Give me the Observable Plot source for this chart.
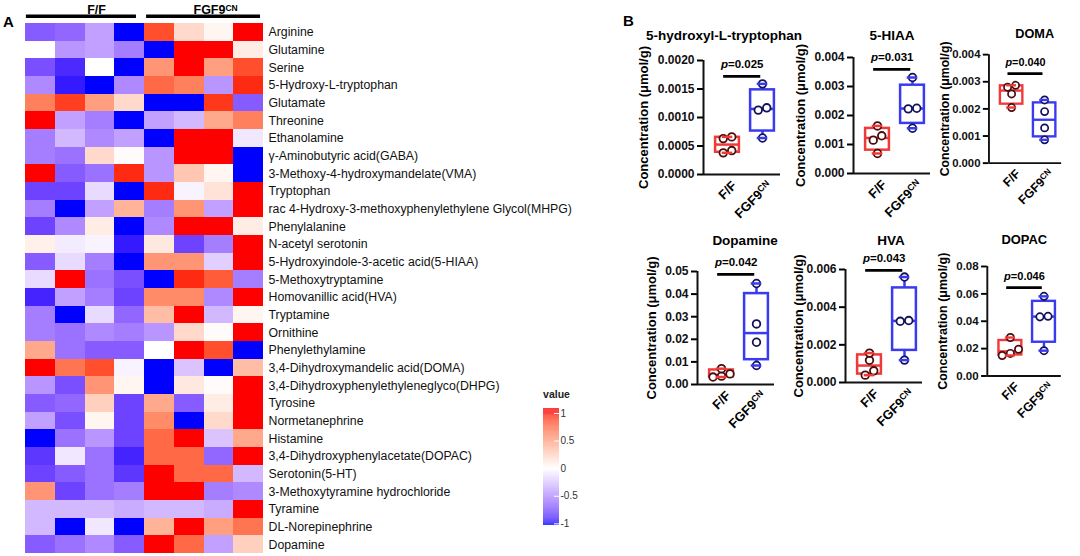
<!DOCTYPE html>
<html><head><meta charset="utf-8">
<script src="https://cdn.jsdelivr.net/npm/d3@7"></script>
<script src="https://cdn.jsdelivr.net/npm/@observablehq/plot@0.6"></script>
<style>
body{margin:0;width:1080px;height:556px;overflow:hidden;background:#fff;font-family:"Liberation Sans",Arial,sans-serif;}
#root{position:relative;width:1080px;height:556px;}
.abs{position:absolute;}
.abs svg{overflow:visible;}
.letter{position:absolute;font-weight:bold;font-size:15px;line-height:1;}
</style></head><body><div id="root"></div>
<script>
// ---------------- DATA ----------------
const metabolites = [
 "Arginine","Glutamine","Serine","5-Hydroxy-L-tryptophan","Glutamate","Threonine","Ethanolamine",
 "γ-Aminobutyric acid(GABA)","3-Methoxy-4-hydroxymandelate(VMA)","Tryptophan",
 "rac 4-Hydroxy-3-methoxyphenylethylene Glycol(MHPG)","Phenylalanine","N-acetyl serotonin",
 "5-Hydroxyindole-3-acetic acid(5-HIAA)","5-Methoxytryptamine","Homovanillic acid(HVA)","Tryptamine",
 "Ornithine","Phenylethylamine","3,4-Dihydroxymandelic acid(DOMA)","3,4-Dihydroxyphenylethyleneglyco(DHPG)",
 "Tyrosine","Normetanephrine","Histamine","3,4-Dihydroxyphenylacetate(DOPAC)","Serotonin(5-HT)",
 "3-Methoxytyramine hydrochloride","Tyramine","DL-Norepinephrine","Dopamine"
];
const groupLabels = ["F/F","FGF9CN"];
const heatValues = [
 [-0.7,-0.65,-0.4,-1, 0.85,0.2,0.05,1],
 [0.0,-0.45,-0.4,-0.55, -1,1,1,0.1],
 [-0.75,-0.9,0.0,-1, 0.55,1,0.5,0.85],
 [-0.5,-0.95,-1,-0.5, 0.75,0.65,-0.45,0.95],
 [0.65,0.9,0.5,0.2, -1,-1,0.92,-0.7],
 [1,-0.4,-0.55,-1, -0.4,-0.3,0.45,0.65],
 [-0.55,-0.3,-0.5,-0.4, -1,1,1,-0.1],
 [-0.55,-0.6,0.2,0.02, -0.45,1,1,-1],
 [1,-0.7,-0.6,0.95, -0.45,0.3,0.05,-1],
 [-0.8,-0.8,-0.15,-1, 0.95,-0.05,0.15,1],
 [-0.55,-1,-0.4,0.4, -0.55,0.55,-0.4,1],
 [-0.8,-0.5,0.1,-1, -0.5,1,1,0.1],
 [0.08,-0.08,-0.05,-0.95, 0.12,-0.8,-0.55,1],
 [-0.7,-0.15,-0.55,-1, 0.55,0.55,-0.2,1],
 [-0.15,1,-0.6,-0.75, -1,0.95,0.8,-0.55],
 [-0.92,-0.4,-0.55,-0.8, 0.6,0.6,-0.5,1],
 [-0.55,-1,-0.15,-0.65, 0.35,1,-0.3,0.05],
 [-0.55,-0.6,-0.5,-0.55, -0.45,0.2,0.02,1],
 [0.45,-0.6,-0.7,-0.7, 0.0,1,0.85,-1],
 [1,0.7,0.85,-0.05, -1,-0.25,-1,0.35],
 [-0.45,-0.75,0.55,0.05, -1,0.12,0.02,1],
 [-0.7,-0.65,0.25,-0.8, 0.45,-0.7,0.1,1],
 [-0.4,-0.75,0.05,-0.8, 0.6,-1,0.2,1],
 [-1,-0.6,-0.45,-0.8, 0.75,1,-0.25,0.45],
 [-0.85,-0.1,-0.6,-0.92, 0.75,0.75,-0.65,1],
 [-0.8,-0.7,-0.6,-0.85, 1,0.75,0.75,-0.3],
 [0.55,-0.8,-0.6,-0.55, 1,1,-0.55,-0.5],
 [-0.3,-0.3,-0.3,-0.35, -0.3,-0.3,-0.35,1],
 [-0.3,-1,-0.1,-1, 0.4,1,0.5,0.7],
 [-0.7,-0.6,-0.5,-0.7, 1,0.75,-0.4,0.25]
];
const legendTicks = [-1,-0.5,0,0.5,1];

const boxTitles = ["5-hydroxyl-L-tryptophan","5-HIAA","DOMA","Dopamine","HVA","DOPAC"];
const ffValues = [
 [0.00038,0.00042,0.00063,0.00066],
 [0.00069,0.00115,0.00130,0.00164],
 [0.00205,0.00255,0.00280,0.00287],
 [0.0033,0.0037,0.0047,0.0070],
 [0.00039,0.00062,0.00118,0.00156],
 [0.0150,0.0165,0.0195,0.0281]
];
const cnValues = [
 [0.00064,0.00113,0.00117,0.00159],
 [0.00156,0.00223,0.00225,0.00331],
 [0.00086,0.00130,0.00190,0.00233],
 [0.0084,0.0187,0.0268,0.0447],
 [0.00119,0.00325,0.00329,0.00560],
 [0.0185,0.0432,0.0436,0.0582]
];
const pValues = ["0.025","0.031","0.040","0.042","0.043","0.046"];
const yMax = [0.002,0.004,0.004,0.05,0.006,0.08];
const yStep = [0.0005,0.001,0.001,0.01,0.002,0.02];
const yDecimals = [4,3,3,2,3,2];
const sigBarY = [0.00172,0.00359,0.00330,0.0487,0.00595,0.0646];
const yTitle = "Concentration (μmol/g)";

// ---------------- LAYOUT ----------------
const FONT = '"Liberation Sans", Arial, sans-serif';
const root = document.getElementById("root");
const NS = "http://www.w3.org/2000/svg";
function place(node, left, top){
  const d = document.createElement("div"); d.className="abs";
  d.style.left = left+"px"; d.style.top = top+"px";
  d.appendChild(node); root.appendChild(d); return d;
}
function decorate(svg){
  svg.querySelectorAll("text").forEach(t=>{
    const s = t.textContent;
    if (s === "FGF9CN") {
      t.textContent = "FGF9";
      const sp = document.createElementNS(NS,"tspan");
      sp.setAttribute("dy","-0.42em"); sp.setAttribute("font-size","0.68em");
      sp.textContent = "CN"; t.appendChild(sp);
    } else if (/^p=/.test(s)) {
      t.textContent = "";
      const a = document.createElementNS(NS,"tspan"); a.setAttribute("font-style","italic"); a.textContent="p";
      const b = document.createElementNS(NS,"tspan"); b.textContent = s.slice(1);
      t.appendChild(a); t.appendChild(b);
    }
  });
  return svg;
}
function letter(txt, left, top){
  const d = document.createElement("div"); d.className="letter"; d.textContent = txt;
  d.style.left = left+"px"; d.style.top = top+"px"; root.appendChild(d);
}

const colorScale = {type:"linear", domain:[-1,0,1], range:["#0000ff","#ffffff","#ff0000"], interpolate:"lab", clamp:true};

// ---------------- HEATMAP ----------------
const cells = [];
heatValues.forEach((row,r)=>row.forEach((v,c)=>cells.push({r,c,v})));
const headerGroups = [
  {label:groupLabels[0], x1:0.03, x2:3.73, tx:2.39},
  {label:groupLabels[1], x1:4.07, x2:7.9, tx:6.39}
];
const heat = Plot.plot({
  width: 563, height: 556, marginLeft: 25, marginRight: 300, marginTop: 0, marginBottom: 3,
  style: {fontFamily: FONT, overflow:"visible", background:"transparent"},
  x: {domain:[0,8], axis:null},
  y: {domain:[-23/17.667, 30], reverse:true, axis:null},
  color: colorScale,
  marks: [
    Plot.rect(cells, {x1:"c", x2:d=>d.c+1, y1:"r", y2:d=>d.r+1, fill:"v", shapeRendering:"crispEdges"}),
    Plot.text(metabolites, {x:8, y:(d,i)=>i+0.5, text:d=>d, textAnchor:"start", dx:5, fontSize:12.3, fill:"#111"}),
    Plot.ruleY(headerGroups, {x1:"x1", x2:"x2", y:-0.41, strokeWidth:3.3, stroke:"#000"}),
    Plot.text(headerGroups, {x:"tx", y:-0.76, text:"label", fontWeight:"bold", fontSize:12.5, lineAnchor:"middle"})
  ]
});
place(decorate(heat), 0, 0);
letter("A", 3, 14);

// ---------------- LEGEND ----------------
const ramp = d3.range(-1.03, 1.09, 0.01);
const legend = Plot.plot({
  width: 46, height: 140, marginLeft: 0, marginRight: 30, marginTop: 18, marginBottom: 5,
  style: {fontFamily: FONT, overflow:"visible", background:"transparent"},
  x: {axis:null},
  y: {domain:[-1.03,1.09]},
  color: colorScale,
  marks: [
    Plot.rect(ramp, {y1:d=>d, y2:d=>d+0.0102, fill:d=>d+0.005}),
    Plot.tickY(legendTicks, {y:d=>d, stroke:"#fff", insetLeft:11, strokeWidth:1}),
    Plot.axisY({anchor:"right", ticks:legendTicks, tickSize:0, tickPadding:1, tickFormat:d=>String(d), fontSize:10, fill:"#333", label:null}),
    Plot.text(["value"], {frameAnchor:"top", dy:-14, dx:5, fontWeight:"bold", fontSize:10.5, fill:"#222", lineAnchor:"middle"})
  ]
});
place(legend, 543, 390);

// ---------------- BOX PLOTS ----------------
const panelLayout = [
  {axisX:703, top:60,  bottom:174, titleY:35,  titleDx:-18, yLabDx:-60},
  {axisX:853, top:57,  bottom:173, titleY:35,  titleDx:0,   yLabDx:-53},
  {axisX:993, top:57,  bottom:172, titleY:35,  titleDx:10,  yLabDx:-47},
  {axisX:697, top:271, bottom:384, titleY:240, titleDx:9,   yLabDx:-46},
  {axisX:845, top:269, bottom:382, titleY:240, titleDx:7,   yLabDx:-47},
  {axisX:990, top:268, bottom:382, titleY:240, titleDx:0,   yLabDx:-46}
];
const boxColors = ["#f03a3a","#3a3af0"];
const dotStroke = ["#4a0c0c","#12125a"];
const PX = 35, FW = 77, ML = 80, MR = 20, MT = 50, MB = 50;
const xDom = [-24/PX, (FW-24)/PX];

function q6(s, p){
  const n = s.length, h = (n+1)*p - 1;
  if (h <= 0) return s[0];
  if (h >= n-1) return s[n-1];
  const lo = Math.floor(h);
  return s[lo] + (h-lo)*(s[lo+1]-s[lo]);
}

function boxPanel(k){
  const L = panelLayout[k];
  const FH = L.bottom - L.top;
  const groups = [ffValues[k], cnValues[k]];
  const pxPer = FH / yMax[k];
  const stats = groups.map((vals,i)=>{
    const s = vals.slice().sort(d3.ascending);
    return {i, min:s[0], max:s[s.length-1], q1:q6(s,0.25), med:q6(s,0.5), q3:q6(s,0.75)};
  });
  const pts = [];
  groups.forEach((vals,i)=>{
    const s = vals.slice().sort(d3.ascending);
    const clusters = [[s[0]]];
    for (let j=1;j<s.length;j++){
      if ((s[j]-s[j-1])*pxPer < 5) clusters[clusters.length-1].push(s[j]);
      else clusters.push([s[j]]);
    }
    clusters.forEach(c=>c.forEach((v,j)=>pts.push({i, v, xo: i + (j-(c.length-1)/2)*8.5/PX})));
  });
  const nT = Math.round(yMax[k]/yStep[k]);
  const ticks = d3.range(0, nT+1).map(t=>t*yStep[k]);
  const fmt = d3.format("."+yDecimals[k]+"f");
  const hw = 0.34, cw = 0.15;
  const plot = Plot.plot({
    width: ML+FW+MR, height: MT+FH+MB, marginLeft: ML, marginRight: MR, marginTop: MT, marginBottom: MB,
    style: {fontFamily: FONT, overflow:"visible", background:"transparent"},
    x: {domain: xDom, axis:null},
    y: {domain: [0, yMax[k]]},
    marks: [
      Plot.axisY({ticks, tickFormat:fmt, tickSize:6, tickPadding:3, strokeWidth:2, fontWeight:"bold", fontSize:12, fill:"#111", label:null}),
      Plot.ruleX([xDom[0]], {strokeWidth:2, stroke:"#111"}),
      Plot.ruleY([0], {strokeWidth:2, stroke:"#111"}),
      Plot.ruleX(stats, {x:"i", y1:"q3", y2:"max", stroke:d=>boxColors[d.i], strokeWidth:2.5}),
      Plot.ruleX(stats, {x:"i", y1:"min", y2:"q1", stroke:d=>boxColors[d.i], strokeWidth:2.5}),
      Plot.rect(stats, {x1:d=>d.i-hw, x2:d=>d.i+hw, y1:"q1", y2:"q3", stroke:d=>boxColors[d.i], fill:"#fff", strokeWidth:2.5}),
      Plot.ruleY(stats, {x1:d=>d.i-hw, x2:d=>d.i+hw, y:"med", stroke:d=>boxColors[d.i], strokeWidth:2.5}),
      Plot.dot(pts, {x:"xo", y:"v", r:3.8, fill:"#fff", stroke:d=>dotStroke[d.i], strokeWidth:1.8}),
      Plot.ruleY(stats, {x1:d=>d.i-cw, x2:d=>d.i+cw, y:"max", stroke:d=>boxColors[d.i], strokeWidth:2.5}),
      Plot.ruleY(stats, {x1:d=>d.i-cw, x2:d=>d.i+cw, y:"min", stroke:d=>boxColors[d.i], strokeWidth:2.5}),
      Plot.ruleY([sigBarY[k]], {x1:-0.11, x2:0.95, stroke:"#000", strokeWidth:2.8}),
      Plot.text(["p="+pValues[k]], {x:0.42, y:sigBarY[k], dy:-12, text:d=>d, fontWeight:"bold", fontSize:11.5, lineAnchor:"middle", fill:"#000"}),
      Plot.text(groupLabels, {x:(d,i)=>i, y:0, text:d=>d, rotate:-45, textAnchor:"end", dx:7, dy:9, lineAnchor:"middle", fontWeight:"bold", fontSize:13, fill:"#000"}),
      Plot.text([yTitle], {frameAnchor:"left", rotate:-90, dx:L.yLabDx, text:d=>d, textAnchor:"middle", fontWeight:"bold", fontSize:13, lineAnchor:"middle", fill:"#000"}),
      Plot.text([boxTitles[k]], {frameAnchor:"top", dx:L.titleDx, dy:L.titleY-L.top, text:d=>d, textAnchor:"middle", fontWeight:"bold", fontSize:13.5, lineAnchor:"middle", fill:"#000"})
    ]
  });
  place(decorate(plot), L.axisX - ML, L.top - MT);
}
for (let k=0;k<6;k++) boxPanel(k);
letter("B", 623, 13);
</script></body></html>
